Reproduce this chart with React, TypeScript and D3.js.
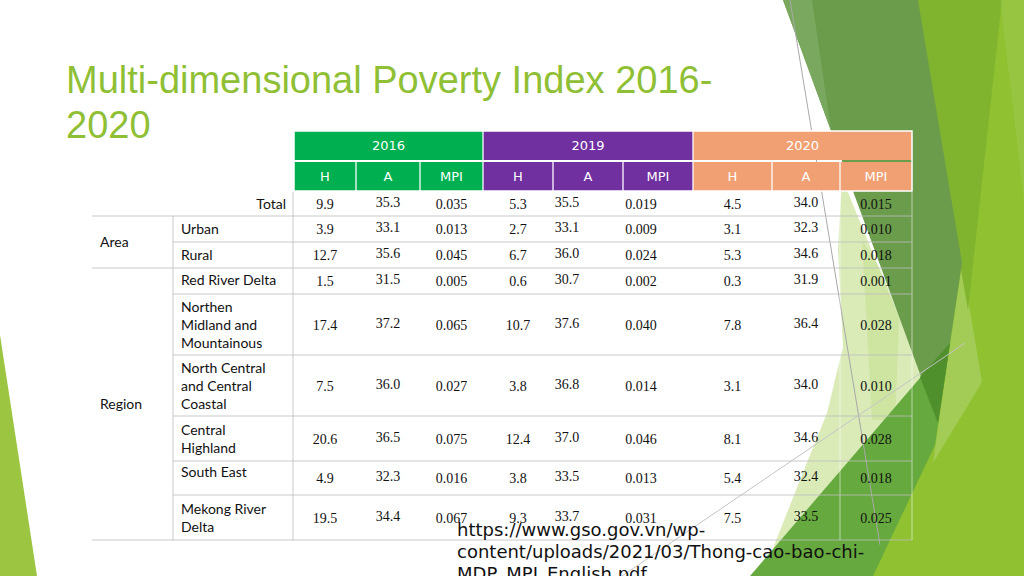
import React from "react";
import * as d3 from "d3";

// ---------- data ----------
const years = ["2016", "2019", "2020"];
const measures = ["H", "A", "MPI"];
const rowLabels = [
  "Total",
  "Urban",
  "Rural",
  "Red River Delta",
  "Northen\nMidland and\nMountainous",
  "North Central\nand Central\nCoastal",
  "Central\nHighland",
  "South East",
  "Mekong River\nDelta",
];
const groups = [
  { name: "Area", first: 1, last: 2 },
  { name: "Region", first: 3, last: 8 },
];
const h2016 = [9.9, 3.9, 12.7, 1.5, 17.4, 7.5, 20.6, 4.9, 19.5];
const a2016 = [35.3, 33.1, 35.6, 31.5, 37.2, 36.0, 36.5, 32.3, 34.4];
const mpi2016 = [0.035, 0.013, 0.045, 0.005, 0.065, 0.027, 0.075, 0.016, 0.067];
const h2019 = [5.3, 2.7, 6.7, 0.6, 10.7, 3.8, 12.4, 3.8, 9.3];
const a2019 = [35.5, 33.1, 36.0, 30.7, 37.6, 36.8, 37.0, 33.5, 33.7];
const mpi2019 = [0.019, 0.009, 0.024, 0.002, 0.04, 0.014, 0.046, 0.013, 0.031];
const h2020 = [4.5, 3.1, 5.3, 0.3, 7.8, 3.1, 8.1, 5.4, 7.5];
const a2020 = [34.0, 32.3, 34.6, 31.9, 36.4, 34.0, 34.6, 32.4, 33.5];
const mpi2020 = [0.015, 0.01, 0.018, 0.001, 0.028, 0.01, 0.028, 0.018, 0.025];
const titleLines = ["Multi-dimensional Poverty Index 2016-", "2020"];
const sourceLines = [
  "https://www.gso.gov.vn/wp-",
  "content/uploads/2021/03/Thong-cao-bao-chi-",
  "MDP_MPI_English.pdf",
];

const series = [h2016, a2016, mpi2016, h2019, a2019, mpi2019, h2020, a2020, mpi2020];

// ---------- layout ----------
const W = 1024;
const H = 576;
const colEdges = [294, 356, 420, 483, 553, 623, 693, 772, 840, 912];
const rowEdges = [192, 216, 242, 268, 294, 355, 416, 461, 495, 540];
const tableLeft = 92;
const groupDivX = 173;
const labelDivX = 293;
const head1 = [131, 160];
const head2 = [162, 191];
const dataXShift = [0, 0, 0, 0, -21, -17, 0, 0, 0];
const dataYShift = [0, -2, 0, 0, -2, 0, 0, -2, 0];
const labelYShift = [0, 0, 0, -1, 0, 0, 0, -6, 0];
const yearColors = d3.scaleOrdinal<string, string>().domain(years).range(["#00b050", "#7030a0", "#f0a072"]);

const fmt1 = d3.format(".1f");
const fmt3 = d3.format(".3f");

export default function App() {
  const colCenters = d3.pairs(colEdges).map(([a, b]) => (a + b) / 2);
  const rowCenters = d3.pairs(rowEdges).map(([a, b]) => (a + b) / 2);
  const xCol = d3.scaleOrdinal<number, number>().domain(d3.range(9)).range(colCenters);
  const yRow = d3.scaleOrdinal<number, number>().domain(d3.range(rowLabels.length)).range(rowCenters);

  const line = d3.line();
  const poly = (pts: [number, number][]) => line(pts) + "Z";

  const labelFont = "Lato, 'Noto Sans', sans-serif";
  const headFont = "'DejaVu Sans', sans-serif";
  const numFont = "'Liberation Serif', 'Times New Roman', serif";

  const fullLines = new Set([1, 3, 9]);

  return (
    <svg width={W} height={H} style={{ position: "absolute", left: 0, top: 0, background: "#fff" }}>
      <rect x={0} y={0} width={W} height={H} fill="#ffffff" />
      {/* decoration */}
      <path d={poly([[0, 335], [37, 576], [0, 576]])} fill="#9cc641" />
      <path d={poly([[960, 0], [1024, 0], [1024, 576], [860, 576], [930, 440], [955, 260]])} fill="#8fc131" />
      <path d={poly([[962, 263], [982, 382], [933, 463]])} fill="#ffffff" opacity={0.18} />
      <path d={poly([[915, 0], [1002, 0], [968, 310]])} fill="#80b42e" />
      <path d={poly([[1000, 0], [1024, 0], [1024, 200]])} fill="#ffffff" opacity={0.08} />
      <path d={poly([[842, 178], [925, 380], [780, 576], [762, 576], [800, 480], [827, 413], [843, 347], [838, 250]])} fill="#90c226" opacity={0.33} />
      <path d={poly([[862, 240], [900, 300], [895, 420], [872, 420]])} fill="#90c226" opacity={0.15} />
      <path d={poly([[783, 0], [918, 0], [962, 263], [938, 423]])} fill="#6b9c4c" />
      <path d={poly([[783, 0], [812, 0], [831, 130]])} fill="#7aa85e" />
      <path d={poly([[750, 576], [950, 343], [935, 445], [873, 576]])} fill="#66a93e" />
      <path d={poly([[920, 377], [950, 343], [938, 423]])} fill="#4f8f2c" />
      <path d={line([[790, 0], [880, 545]]) as string} stroke="#a8a8a8" strokeWidth={1} fill="none" />
      <path d={line([[622, 576], [965, 343]]) as string} stroke="#c4c4c4" strokeWidth={1} fill="none" />

      {/* title */}
      {titleLines.map((t, i) => (
        <text key={t} x={66} y={93 + i * 45} fontFamily="'Liberation Sans', Arial, sans-serif" fontSize={38} fill="#8fbf35">
          {t}
        </text>
      ))}

      {/* header row 1 */}
      {years.map((yr, i) => {
        const x0 = colEdges[i * 3];
        const x1 = colEdges[i * 3 + 3];
        return (
          <g key={yr}>
            <rect x={x0} y={head1[0]} width={x1 - x0} height={head1[1] - head1[0]} fill={yearColors(yr)} />
            <text x={(x0 + x1) / 2} y={(head1[0] + head1[1]) / 2 + 4.5} textAnchor="middle" fontFamily={headFont} fontSize={13} fill="#fff">
              {yr}
            </text>
          </g>
        );
      })}
      {/* header row 2 */}
      {d3.range(9).map((c) => {
        const x0 = colEdges[c];
        const x1 = colEdges[c + 1];
        return (
          <g key={"m" + c}>
            <rect x={x0} y={head2[0]} width={x1 - x0} height={head2[1] - head2[0]} fill={yearColors(years[Math.floor(c / 3)])} />
            <text x={xCol(c)} y={(head2[0] + head2[1]) / 2 + 4.5} textAnchor="middle" fontFamily={headFont} fontSize={13} fill="#fff">
              {measures[c % 3]}
            </text>
          </g>
        );
      })}
      {colEdges.slice(1, -1).map((x, i) => (
        <line key={"hv" + i} x1={x} x2={x} y1={(i + 1) % 3 === 0 ? head1[0] : head2[0]} y2={head2[1]} stroke="#fff" strokeWidth={1.5} opacity={0.85} />
      ))}
      <rect x={colEdges[0]} y={head1[0]} width={colEdges[9] - colEdges[0]} height={head2[1] - head1[0]} fill="none" stroke="#fff" strokeWidth={1.5} />

      {/* grid */}
      {colEdges.slice(1).map((x, i) => (
        <line key={"dv" + i} x1={x} x2={x} y1={rowEdges[0]} y2={rowEdges[rowEdges.length - 1]} stroke="#ffffff" strokeWidth={1} opacity={0.55} />
      ))}
      {rowEdges.slice(1).map((y, i) => (
        <line key={"rl" + i} x1={fullLines.has(i + 1) ? tableLeft : groupDivX} x2={colEdges[9]} y1={y} y2={y} stroke="#bdbdbd" strokeWidth={1} opacity={0.8} />
      ))}
      <line x1={groupDivX} x2={groupDivX} y1={rowEdges[1]} y2={rowEdges[9]} stroke="#bdbdbd" strokeWidth={1} opacity={0.8} />
      <line x1={labelDivX} x2={labelDivX} y1={rowEdges[0]} y2={rowEdges[9]} stroke="#bdbdbd" strokeWidth={1} opacity={0.8} />

      {/* group labels */}
      {groups.map((g) => (
        <text key={g.name} x={100} y={(rowEdges[g.first] + rowEdges[g.last + 1]) / 2 + 5} fontFamily={labelFont} fontSize={14} fill="#111">
          {g.name}
        </text>
      ))}

      {/* row labels */}
      {rowLabels.map((lab, r) => {
        const lines = lab.split("\n");
        const lh = 18;
        const cy = yRow(r) + labelYShift[r];
        const isTotal = r === 0;
        return (
          <text key={"l" + r} fontFamily={labelFont} fontSize={14} fill="#111" textAnchor={isTotal ? "end" : "start"}>
            {lines.map((ln, k) => (
              <tspan key={k} x={isTotal ? 286 : 181} y={cy - ((lines.length - 1) * lh) / 2 + k * lh + 5}>
                {ln}
              </tspan>
            ))}
          </text>
        );
      })}

      {/* values */}
      {series.map((vals, c) =>
        vals.map((v, r) => (
          <text
            key={"v" + c + "-" + r}
            x={xCol(c) + dataXShift[c]}
            y={yRow(r) + 5 + dataYShift[c]}
            textAnchor="middle"
            fontFamily={numFont}
            fontSize={14}
            fill="#111"
          >
            {c % 3 === 2 ? fmt3(v) : fmt1(v)}
          </text>
        ))
      )}

      {/* source */}
      {sourceLines.map((t, i) => (
        <text key={"s" + i} x={457} y={536 + i * 22} fontFamily="'DejaVu Sans', sans-serif" fontSize={18} fill="#111">
          {t}
        </text>
      ))}
    </svg>
  );
}
